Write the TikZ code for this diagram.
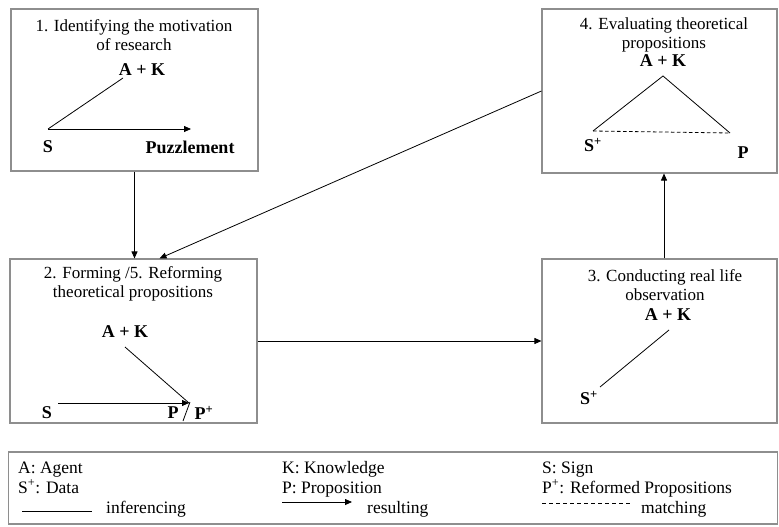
\documentclass[tikz,border=0pt]{standalone}
\usepackage{fontspec}
\setmainfont{Liberation Serif}
\usetikzlibrary{arrows.meta,calc}
\definecolor{boxgray}{HTML}{8E8E8E}
\tikzset{
  panel/.style={draw=boxgray,line width=1.1pt,fill=white},
  ttl/.style={align=center,font=\fontsize{17}{19.5}\selectfont,inner sep=0pt},
  lbl/.style={font=\fontsize{18}{19}\selectfont\bfseries,inner sep=0pt},
  leg/.style={font=\fontsize{17.5}{19}\selectfont,inner sep=0pt,anchor=base west},
  link/.style={draw=black,line width=0.8pt},
  arr/.style={link,-{Triangle[length=7pt,width=6pt]}},
  dsh/.style={link,dash pattern=on 3.5pt off 2.5pt},
}
\newcommand{\plussup}{\textsuperscript{+}}
\begin{document}
\begin{tikzpicture}[x=1pt,y=-1pt]
\useasboundingbox (0,0) rectangle (779,527);
% panels
\node[panel,minimum width=247,minimum height=162] (b1) at (134.5,90) {};
\node[panel,minimum width=235,minimum height=164] (b4) at (659.5,91) {};
\node[panel,minimum width=247,minimum height=164] (b2) at (133.5,341) {};
\node[panel,minimum width=235,minimum height=164] (b3) at (659.5,341) {};
\node[panel,minimum width=769,minimum height=72] (lg) at (393,488) {};
% connectors between panels
\draw[arr] (b1.south) -- (b1.south |- b2.north);
\coordinate (in2) at ($(b2.north)+(26,0)$);
\draw[arr] (b4.west) -- (in2);
\draw[arr] (b2.east) -- (b3.west);
\draw[arr] ([xshift=4.5pt]b3.north) -- ([xshift=4.5pt]b4.south);
% panel 1
\node[ttl] (t1) at (134,35) {1. Identifying the motivation\\of research};
\node[lbl] (ak1) at (142,70) {A + K};
\node[lbl] (s1) at (48,147) {S};
\node[lbl] (pz) at (190,147) {Puzzlement};
\coordinate (c1) at (48,129);
\coordinate (a1) at (123,78);
\coordinate (e1) at (191,129);
\draw[link] (a1) -- (c1);
\draw[arr] (c1) -- (e1);
% panel 4
\node[ttl] (t4) at (664,35) {4. Evaluating theoretical\\propositions};
\node[lbl] (ak4) at (663,61) {A + K};
\node[lbl] (s4) at (593,145) {S\plussup};
\node[lbl] (p4) at (743,153) {P};
\coordinate (apx) at (663,76);
\coordinate (lft) at (593,131);
\coordinate (rgt) at (730,133);
\draw[link] (lft) -- (apx) -- (rgt);
\draw[dsh] (lft) -- (rgt);
% panel 2
\node[ttl] (t2) at (133,284) {2. Forming /5. Reforming\\theoretical propositions};
\node[lbl] (ak2) at (125,332) {A + K};
\node[lbl] (s2) at (47,413) {S};
\node[lbl] (p2) at (173,413) {P};
\node[lbl] (pp2) at (204,413) {P\plussup};
\coordinate (a2) at (125,347);
\coordinate (m2) at (189,403);
\coordinate (c2) at (58,403);
\coordinate (sl1) at (183,421);
\coordinate (sl2) at (190,402);
\draw[link] (a2) -- (m2);
\draw[arr] (c2) -- (m2);
\draw[link] (sl1) -- (sl2);
% panel 3
\node[ttl] (t3) at (665,285) {3. Conducting real life\\observation};
\node[lbl] (ak3) at (668,315) {A + K};
\node[lbl] (s3) at (589,398) {S\plussup};
\coordinate (a3) at (669,330);
\coordinate (c3) at (600,387);
\draw[link] (a3) -- (c3);
% legend
\node[leg] (la) at (18,473) {A: Agent};
\node[leg] (ls) at (18,493) {S\plussup: Data};
\node[leg] (li) at (106,513) {inferencing};
\coordinate (li1) at (22,511);
\coordinate (li2) at (92,511);
\draw[link] (li1) -- (li2);
\node[leg] (lk) at (282,473) {K: Knowledge};
\node[leg] (lp) at (282,493) {P: Proposition};
\node[leg] (lr) at (367,513) {resulting};
\coordinate (lr1) at (282,502);
\coordinate (lr2) at (352,502);
\draw[arr] (lr1) -- (lr2);
\node[leg] (lsg) at (542,473) {S: Sign};
\node[leg] (lpp) at (542,493) {P\plussup: Reformed Propositions};
\node[leg] (lm) at (641,513) {matching};
\coordinate (lm1) at (542,503);
\coordinate (lm2) at (632,503);
\draw[dsh,dash pattern=on 4pt off 3pt] (lm1) -- (lm2);
\end{tikzpicture}
\end{document}
